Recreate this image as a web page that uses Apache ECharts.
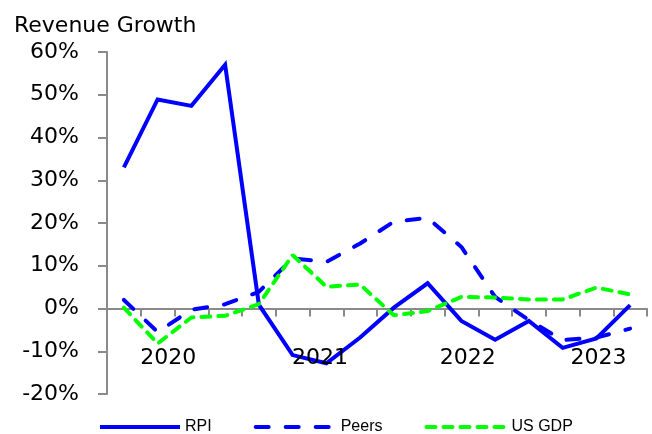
<!DOCTYPE html>
<html>
<head>
<meta charset="utf-8">
<script src="https://cdn.jsdelivr.net/npm/echarts@6/dist/echarts.min.js"></script>
<style>html,body{margin:0;padding:0;background:#fff}#c{width:652px;height:434px}</style>
</head>
<body>
<div id="c"></div>
<script>
var quarters = ['Q1 2020','Q2 2020','Q3 2020','Q4 2020','Q1 2021','Q2 2021','Q3 2021','Q4 2021',
                'Q1 2022','Q2 2022','Q3 2022','Q4 2022','Q1 2023','Q2 2023','Q3 2023','Q4 2023'];
var rpi   = [33.0, 48.9, 47.4, 57.0, 0.9, -10.9, -12.8, -6.8, 0.2, 5.9, -2.9, -7.3, -2.9, -9.2, -7.0, 0.8];
var peers = [2.0, -5.5, -0.3, 1.0, 3.9, 11.7, 10.9, 15.2, 20.3, 21.2, 14.4, 2.7, -2.7, -7.4, -6.8, -4.7];
var usGdp = [0.2, -8.2, -2.1, -1.7, 1.0, 12.5, 5.1, 5.6, -1.6, -0.6, 2.7, 2.6, 2.1, 2.1, 4.9, 3.3];
var yearLabels = ['2020', '2021', '2022', '2023'];
var seriesNames = ['RPI', 'Peers', 'US GDP'];

// layout: fine label grid (128 cells across plot) and cell index for each year label
var fineCells = 128;
var yearCellIdx = [14, 50, 85, 116];
var fineData = [];
for (var i = 0; i < fineCells; i++) fineData.push('');
yearLabels.forEach(function (y, k) { fineData[yearCellIdx[k]] = y; });

var axisGray = '#8a8a8a';
var chart = echarts.init(document.getElementById('c'), null, {renderer: 'canvas'});
chart.setOption({
  animation: false,
  backgroundColor: '#fff',
  title: {
    text: 'Revenue Growth', left: 14, top: 15, padding: 0,
    textStyle: {fontFamily: 'DejaVu Sans', fontSize: 22, fontWeight: 'normal', color: '#000'}
  },
  legend: {
    data: seriesNames, left: 98, top: 419, padding: 0,
    itemWidth: 80, itemHeight: 14, itemGap: 42,
    itemStyle: {opacity: 0},
    lineStyle: {width: 4},
    textStyle: {fontFamily: 'Liberation Sans', fontSize: 16, color: '#000'}
  },
  grid: {left: 107, right: 5, top: 52, bottom: 40, containLabel: false, outerBoundsMode: 'none'},
  xAxis: [{
    type: 'category', data: quarters, boundaryGap: true,
    axisLine: {show: true, onZero: true, lineStyle: {color: axisGray, width: 2}},
    axisTick: {show: true, length: 8, interval: 0, lineStyle: {color: axisGray, width: 2}},
    axisLabel: {show: false},
    splitLine: {show: false}
  }, {
    type: 'category', data: fineData, position: 'bottom', offset: -86, boundaryGap: true, z: 10,
    axisLine: {show: false, onZero: false},
    axisTick: {show: false},
    axisLabel: {
      show: true, margin: 39,
      interval: function (idx, val) { return val !== ''; },
      fontFamily: 'DejaVu Sans', fontSize: 22, color: '#000'
    },
    splitLine: {show: false}
  }],
  yAxis: {
    type: 'value', min: -20, max: 60, interval: 10,
    axisLine: {show: true, lineStyle: {color: axisGray, width: 2}},
    axisTick: {show: true, length: 9, lineStyle: {color: axisGray, width: 2}},
    axisLabel: {formatter: '{value}%', margin: 28, fontFamily: 'DejaVu Sans', fontSize: 22, color: '#000'},
    splitLine: {show: false}
  },
  series: [{
    name: seriesNames[0], type: 'line', data: rpi, symbol: 'none',
    lineStyle: {color: '#0000ff', width: 4, join: 'miter'}, itemStyle: {color: '#0000ff'}
  }, {
    name: seriesNames[1], type: 'line', data: peers, symbol: 'none',
    lineStyle: {color: '#0000ff', width: 4, type: [13, 17], cap: 'round'}, itemStyle: {color: '#0000ff'}
  }, {
    name: seriesNames[2], type: 'line', data: usGdp, symbol: 'none',
    lineStyle: {color: '#00ff00', width: 4, type: [9, 8], cap: 'round'}, itemStyle: {color: '#00ff00'}
  }]
});
</script>
</body>
</html>
